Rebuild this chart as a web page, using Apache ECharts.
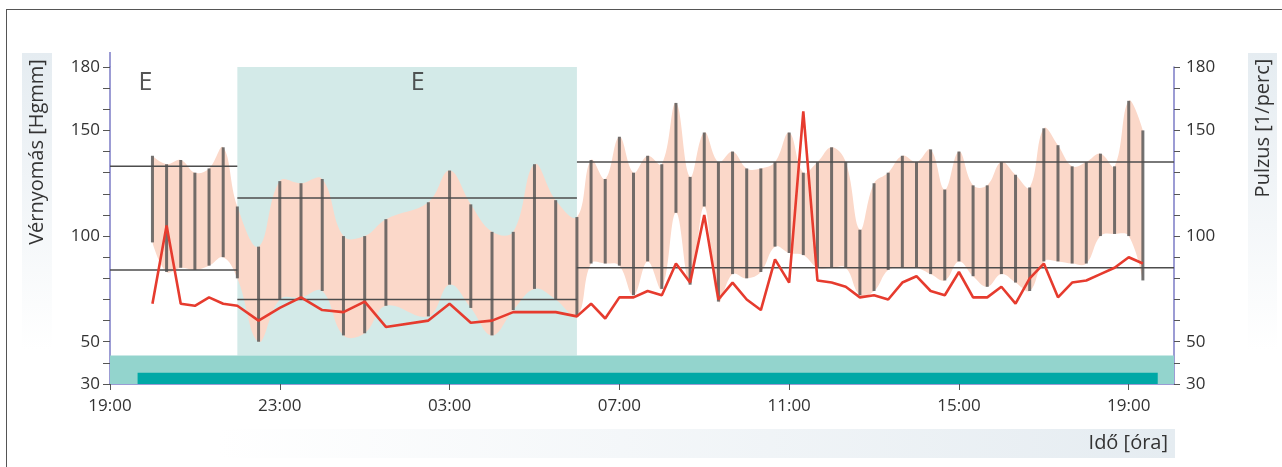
<!DOCTYPE html>
<html>
<head>
<meta charset="utf-8">
<script src="https://cdn.jsdelivr.net/npm/echarts@6/dist/echarts.min.js"></script>
<style>
  html, body { margin: 0; padding: 0; background: #fff; }
  #wrap { position: relative; width: 1282px; height: 467px; overflow: hidden; }
  #chart { position: absolute; left: 0; top: 0; width: 1282px; height: 467px; }
  #frame { position: absolute; left: 6px; top: 9px; width: 1300px; height: 500px;
           border-left: 1.5px solid #555; border-top: 1.5px solid #555; pointer-events: none; }
</style>
</head>
<body>
<div id="wrap"><div id="chart"></div><div id="frame"></div></div>
<script>
// Measurement times (clock time; "+1" marks the following day)
const TIMES = ['20:00','20:20','20:40','21:00','21:20','21:40','22:00',
  '22:30','23:00','23:30','00:00','00:30','01:00','01:30','02:30','03:00','03:30','04:00','04:30','05:00','05:30','06:00',
  '06:20','06:40','07:00','07:20','07:40','08:00','08:20','08:40','09:00','09:20','09:40','10:00','10:20','10:40',
  '11:00','11:20','11:40','12:00','12:20','12:40','13:00','13:20','13:40','14:00','14:20','14:40','15:00','15:20',
  '15:40','16:00','16:20','16:40','17:00','17:20','17:40','18:00','18:20','18:40','19:00+1','19:20+1'];
// Systolic / diastolic blood pressure [Hgmm]
const SYS = [138,134,136,130,132,142,114,
  95,126,125,127,100,100,108,116,131,115,102,102,134,117,109,
  136,127,147,130,138,134,163,128,149,135,140,132,132,135,
  149,130,135,142,135,103,125,130,138,135,141,122,140,124,
  124,135,129,123,151,143,133,135,139,133,164,150];
const DIA = [97,83,85,84,86,90,80,
  50,70,71,74,53,54,67,62,77,66,53,65,75,70,62,
  87,87,86,72,88,75,111,77,114,69,82,80,83,95,
  92,91,85,85,85,72,74,84,85,85,82,79,88,81,
  76,82,78,74,88,88,87,87,100,101,100,79];
// Pulse [1/perc]
const PULSE = [68,105,68,67,71,68,67,
  60,66,71,65,64,69,57,60,68,59,60,64,64,64,62,
  68,61,71,71,74,72,87,78,110,70,78,70,65,89,
  78,159,79,78,76,71,72,70,78,81,74,72,83,71,
  71,76,68,80,87,71,78,79,82,85,90,87];

// Limit lines per period
const LIMIT_FROM = ['19:00', '22:00', '06:00'];
const LIMIT_TO   = ['22:00', '06:00', '20:04+1'];
const LIMIT_SYS  = [133, 118, 135];
const LIMIT_DIA  = [84, 70, 85];

// Axes
const AXIS_RANGE = ['19:00', '20:04+1'];
const X_TICKS = ['19:00', '23:00', '03:00', '07:00', '11:00', '15:00', '19:00+1'];
const Y_TICKS = [30, 40, 50, 60, 70, 80, 90, 100, 110, 120, 130, 140, 150, 160, 170, 180];
const Y_LABELS = [30, 50, 100, 150, 180];

// Sleep period, activity strip and recording period
const SLEEP = ['22:00', '06:00'];
const STRIP_TOP = 43.5;
const RECORDING = ['19:39', '19:41+1'];
const RECORDING_TOP = 35.3;

// "E" markers
const E_TIMES = ['19:50', '02:15'];
const E_LEVEL = 172.5;

function hoursFromStart(s) {
  const next = s.endsWith('+1');
  const parts = s.slice(0, 5).split(':').map(Number);
  let t = parts[0] + parts[1] / 60 - 19;
  if (t < 0) t += 24;
  if (next) t += 24;
  return t;
}

const T = TIMES.map(hoursFromStart);
const xMin = hoursFromStart(AXIS_RANGE[0]);
const xMax = hoursFromStart(AXIS_RANGE[1]);
const xTickVals = X_TICKS.map(hoursFromStart);

const FONT = 'Open Sans';
const AXIS_COLOR = '#7b7bc6';
const TICK_COLOR = '#555';
const LABEL_COLOR = '#333';
const SMOOTH = 0.4;

const barData = T.map((t, i) => [t, DIA[i], SYS[i]]);
const pulseData = T.map((t, i) => [t, PULSE[i]]);
const limitData = LIMIT_FROM.map((f, i) => [hoursFromStart(f), hoursFromStart(LIMIT_TO[i]), LIMIT_SYS[i], LIMIT_DIA[i]]);

// Smoothed path through pixel points (same control-point scheme as a smoothed line)
function smoothSegments(pts, first) {
  let d = first ? 'M' + pts[0][0] + ' ' + pts[0][1] : 'L' + pts[0][0] + ' ' + pts[0][1];
  const cps = pts.map((p, i) => {
    if (i === 0 || i === pts.length - 1) return [p, p];
    const prev = pts[i - 1], next = pts[i + 1];
    const vx = (next[0] - prev[0]) * SMOOTH, vy = (next[1] - prev[1]) * SMOOTH;
    let l0 = Math.hypot(p[0] - prev[0], p[1] - prev[1]);
    let l1 = Math.hypot(next[0] - p[0], next[1] - p[1]);
    const s = l0 + l1 || 1;
    l0 /= s; l1 /= s;
    return [[p[0] - vx * l0, p[1] - vy * l0], [p[0] + vx * l1, p[1] + vy * l1]];
  });
  for (let i = 1; i < pts.length; i++) {
    const a = cps[i - 1][1], b = cps[i][0], p = pts[i];
    d += ' C' + a[0] + ' ' + a[1] + ' ' + b[0] + ' ' + b[1] + ' ' + p[0] + ' ' + p[1];
  }
  return d;
}

const chart = echarts.init(document.getElementById('chart'), null, { renderer: 'canvas' });

const yAxisCommon = {
  type: 'value', min: 30, max: 180,
  axisLine: { show: true, lineStyle: { color: AXIS_COLOR, width: 1.5 } },
  axisTick: { show: true, length: 7, customValues: Y_TICKS, lineStyle: { color: TICK_COLOR, width: 1 } },
  axisLabel: { customValues: Y_LABELS, color: LABEL_COLOR, fontSize: 17, fontFamily: FONT },
  splitLine: { show: false }
};

const option = {
  animation: false,
  textStyle: { fontFamily: FONT },
  grid: { left: 110, right: 108, top: 67, bottom: 83 },
  xAxis: {
    type: 'value', min: xMin, max: xMax,
    axisLine: { show: true, lineStyle: { color: AXIS_COLOR, width: 1.5 } },
    axisTick: { show: true, length: 6, customValues: xTickVals, lineStyle: { color: TICK_COLOR } },
    axisLabel: {
      customValues: xTickVals, color: LABEL_COLOR, fontSize: 17, fontFamily: FONT, margin: 14,
      formatter: function (v) {
        let best = 0;
        xTickVals.forEach((tv, i) => { if (Math.abs(tv - v) < Math.abs(xTickVals[best] - v)) best = i; });
        return X_TICKS[best].slice(0, 5);
      }
    },
    splitLine: { show: false }
  },
  yAxis: [
    Object.assign({}, yAxisCommon, { position: 'left', axisLabel: Object.assign({}, yAxisCommon.axisLabel, { margin: 10 }) }),
    Object.assign({}, yAxisCommon, { position: 'right', axisTick: Object.assign({}, yAxisCommon.axisTick, { length: 6 }),
      axisLabel: Object.assign({}, yAxisCommon.axisLabel, { margin: 12 }) })
  ],
  graphic: [
    // upper extension of the left axis
    { type: 'line', z: 50, shape: { x1: 110, y1: 52, x2: 110, y2: 67 }, style: { stroke: AXIS_COLOR, lineWidth: 1.5 } },
    // axis name panels
    { type: 'rect', z: 0, shape: { x: 22, y: 53, width: 30, height: 297 },
      style: { fill: { type: 'linear', x: 0, y: 0, x2: 0, y2: 1, colorStops: [{ offset: 0, color: '#e5ecf1' }, { offset: 1, color: '#ffffff' }] } } },
    { type: 'text', z: 5, x: 37, y: 152, rotation: Math.PI / 2,
      style: { text: 'Vérnyomás [Hgmm]', fill: LABEL_COLOR, font: '20px "Open Sans"', align: 'center', verticalAlign: 'middle' } },
    { type: 'rect', z: 0, shape: { x: 1248, y: 53, width: 29, height: 297 },
      style: { fill: { type: 'linear', x: 0, y: 0, x2: 0, y2: 1, colorStops: [{ offset: 0, color: '#e5ecf1' }, { offset: 1, color: '#ffffff' }] } } },
    { type: 'text', z: 5, x: 1263, y: 128, rotation: Math.PI / 2,
      style: { text: 'Pulzus [1/perc]', fill: LABEL_COLOR, font: '20px "Open Sans"', align: 'center', verticalAlign: 'middle' } },
    { type: 'rect', z: 0, shape: { x: 218, y: 429, width: 957, height: 29 },
      style: { fill: { type: 'linear', x: 0, y: 0, x2: 1, y2: 0, colorStops: [{ offset: 0, color: '#ffffff' }, { offset: 1, color: '#e5ecf1' }] } } },
    { type: 'text', z: 5, x: 1168, y: 443,
      style: { text: 'Idő [óra]', fill: LABEL_COLOR, font: '20px "Open Sans"', align: 'right', verticalAlign: 'middle' } }
  ],
  series: [
    {
      name: 'areas', type: 'line', data: [], z: 0, silent: true,
      markArea: {
        silent: true,
        data: [
          [{ xAxis: hoursFromStart(SLEEP[0]), yAxis: STRIP_TOP, itemStyle: { color: '#d3eae8' } },
           { xAxis: hoursFromStart(SLEEP[1]), yAxis: 180 }],
          [{ xAxis: xMin, yAxis: 30, itemStyle: { color: '#93d4cd' } },
           { xAxis: xMax, yAxis: STRIP_TOP }],
          [{ xAxis: hoursFromStart(RECORDING[0]), yAxis: 30, itemStyle: { color: '#00a8a6' } },
           { xAxis: hoursFromStart(RECORDING[1]), yAxis: RECORDING_TOP }]
        ]
      }
    },
    {
      // pressure band between systolic and diastolic readings
      name: 'bp-band', type: 'custom', z: 2, silent: true,
      data: [[T[0], DIA[0], SYS[0]]],
      encode: { x: 0, y: [1, 2] },
      renderItem: function (params, api) {
        const upper = T.map((t, i) => api.coord([t, SYS[i]]));
        const lower = T.map((t, i) => api.coord([t, DIA[i]])).reverse();
        const d = smoothSegments(upper, true) + ' ' + smoothSegments(lower, false) + ' Z';
        return { type: 'path', shape: { pathData: d }, style: { fill: '#fbd8c9', stroke: null } };
      }
    },
    {
      name: 'measurements', type: 'custom', data: barData, z: 3,
      encode: { x: 0, y: [1, 2] },
      renderItem: function (params, api) {
        const t = api.value(0);
        const p1 = api.coord([t, api.value(1)]);
        const p2 = api.coord([t, api.value(2)]);
        return { type: 'line', shape: { x1: p1[0], y1: p1[1], x2: p2[0], y2: p2[1] },
                 style: { stroke: 'rgba(80,80,80,0.8)', lineWidth: 3 } };
      }
    },
    {
      name: 'limits', type: 'custom', data: limitData, z: 4,
      encode: { x: [0, 1], y: [2, 3] },
      renderItem: function (params, api) {
        const a = api.coord([api.value(0), api.value(2)]);
        const b = api.coord([api.value(1), api.value(2)]);
        const c = api.coord([api.value(0), api.value(3)]);
        const d = api.coord([api.value(1), api.value(3)]);
        const st = { stroke: '#4d4d4d', lineWidth: 1.5 };
        return { type: 'group', children: [
          { type: 'line', shape: { x1: a[0], y1: a[1], x2: b[0], y2: b[1] }, style: st },
          { type: 'line', shape: { x1: c[0], y1: c[1], x2: d[0], y2: d[1] }, style: st }
        ] };
      }
    },
    {
      name: 'Pulzus', type: 'line', yAxisIndex: 1, data: pulseData, z: 5,
      symbol: 'none', lineStyle: { color: '#e63b2e', width: 2.6 }, itemStyle: { color: '#e63b2e' }
    },
    {
      name: 'E', type: 'scatter', z: 6, symbolSize: 0, silent: true,
      data: E_TIMES.map(s => [hoursFromStart(s), E_LEVEL]),
      label: { show: true, position: 'inside', formatter: 'E', color: '#2b2b2b', fontSize: 25, fontFamily: FONT }
    }
  ]
};

chart.setOption(option);
</script>
</body>
</html>
